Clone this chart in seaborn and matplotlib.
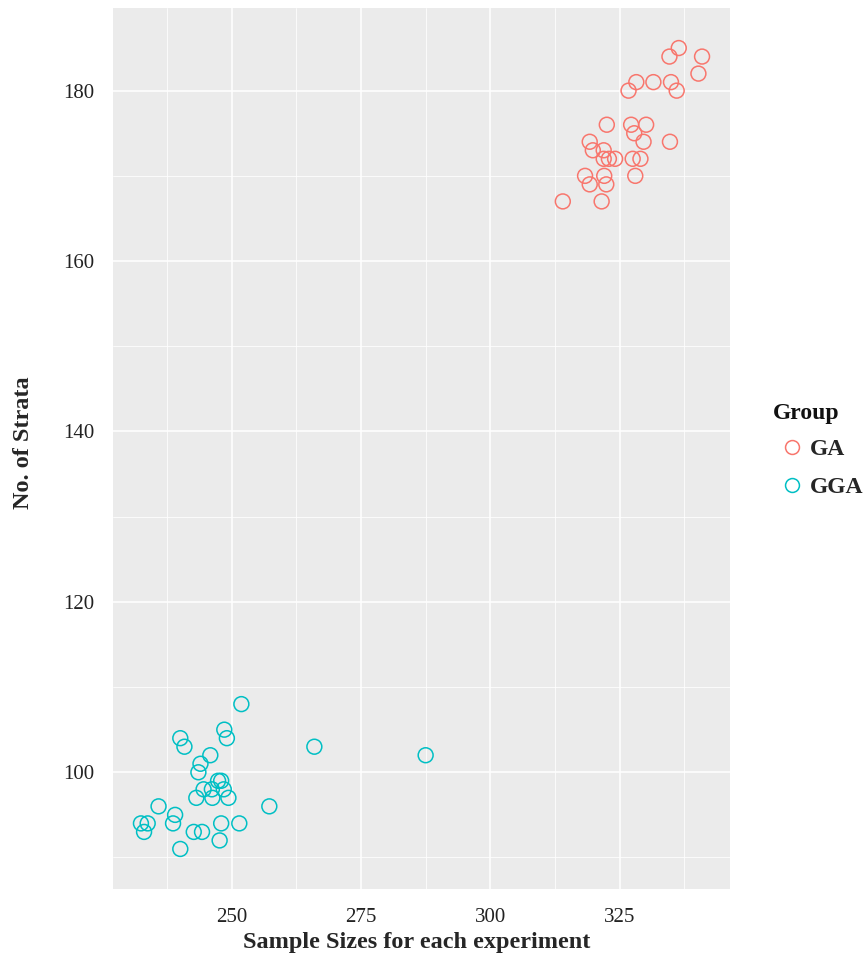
import matplotlib
matplotlib.use("Agg")
import matplotlib.pyplot as plt
from matplotlib.lines import Line2D
from matplotlib.ticker import FixedLocator
import seaborn as sns
import pandas as pd

# Sample sizes and number of strata per experiment
ga_size = [336.4, 334.6, 340.9, 340.2, 328.2, 331.5, 334.9, 326.7, 336.0,
           322.5, 327.2, 330.1, 327.8, 329.6, 319.2, 334.7, 319.8, 321.9,
           321.9, 322.9, 324.1, 327.5, 329.0, 318.3, 322.0, 328.0, 319.2,
           322.4, 314.0, 321.5]
ga_strata = [185, 184, 184, 182, 181, 181, 181, 180, 180,
             176, 176, 176, 175, 174, 174, 174, 173, 173,
             172, 172, 172, 172, 172, 170, 170, 170, 169,
             169, 167, 167]

gga_size = [251.9, 248.6, 249.1, 240.1, 240.9, 266.0, 287.5, 245.9, 244.0,
            243.6, 247.4, 248.0, 244.6, 246.2, 248.5, 243.2, 246.3, 249.4,
            235.9, 257.3, 239.1, 238.7, 232.5, 233.8, 233.1, 242.7, 244.3,
            248.0, 251.5, 247.7, 240.1]
gga_strata = [108, 105, 104, 104, 103, 103, 102, 102, 101,
              100, 99, 99, 98, 98, 98, 97, 97, 97,
              96, 96, 95, 94, 94, 94, 93, 93, 93,
              94, 94, 92, 91]

groups = ["GA", "GGA"]
colors = {"GA": "#F8766D", "GGA": "#00BFC4"}

x_major = [250, 275, 300, 325]
x_minor = [237.5, 262.5, 287.5, 312.5, 337.5]
y_major = [100, 120, 140, 160, 180]
y_minor = [90, 110, 130, 150, 170]

df = pd.DataFrame({
    "size": ga_size + gga_size,
    "strata": ga_strata + gga_strata,
    "Group": ["GA"] * len(ga_size) + ["GGA"] * len(gga_size),
})

sns.set_theme(style="darkgrid")
plt.rcParams["font.family"] = ["Liberation Serif", "DejaVu Serif"]

W, H = 865, 961
L, R, T, B = 113, 730, 8, 889
fig = plt.figure(figsize=(W / 100, H / 100), dpi=100)
ax = fig.add_axes([L / W, 1 - B / H, (R - L) / W, (B - T) / H])
ax.set_facecolor("#EBEBEB")

sns.scatterplot(data=df, x="size", y="strata", hue="Group", hue_order=groups,
                palette=colors, s=115, linewidth=1.1, legend=False, ax=ax,
                zorder=3)

# hollow circles: move fill colour to the edge
coll = ax.collections[0]
fc = coll.get_facecolors()
coll.set_edgecolors(fc)
coll.set_facecolors("none")

ax.set_xlim(227.1, 346.3)
ax.set_ylim(86.3, 189.7)
ax.xaxis.set_major_locator(FixedLocator(x_major))
ax.xaxis.set_minor_locator(FixedLocator(x_minor))
ax.yaxis.set_major_locator(FixedLocator(y_major))
ax.yaxis.set_minor_locator(FixedLocator(y_minor))
ax.grid(which="major", color="white", linewidth=1.1)
ax.grid(which="minor", color="white", linewidth=0.55)
ax.set_axisbelow(True)
for sp in ax.spines.values():
    sp.set_visible(False)

ax.tick_params(which="major", length=6, width=1.0, color="#333333",
               labelsize=15, labelcolor="#222222", pad=7.5)
ax.tick_params(which="minor", length=0)

ax.set_xlabel("Sample Sizes for each experiment", fontsize=17.5,
              fontweight="bold")
ax.set_ylabel("No. of Strata", fontsize=17.5, fontweight="bold")
ax.xaxis.set_label_coords((417 - L) / (R - L), (B - 932) / (B - T))
ax.yaxis.set_label_coords((34 - L) / (R - L), (B - 443) / (B - T))

# legend: title as its own text, entries below it
fig.text(773 / W, 1 - 414 / H, "Group", ha="left", va="center",
         fontsize=17, fontweight="bold", color="#111111")
handles = [Line2D([], [], marker="o", linestyle="none", markersize=10,
                  markerfacecolor="none", markeredgecolor=colors[g],
                  markeredgewidth=1.1) for g in groups]
leg = fig.legend(handles, groups, loc="upper left",
                 bbox_to_anchor=(757 / W, 1 - 417 / H), frameon=False,
                 prop={"size": 17, "weight": "bold"},
                 handletextpad=0.13, labelspacing=0.72, handlelength=1.2)

fig.savefig("out.png", dpi=100)
